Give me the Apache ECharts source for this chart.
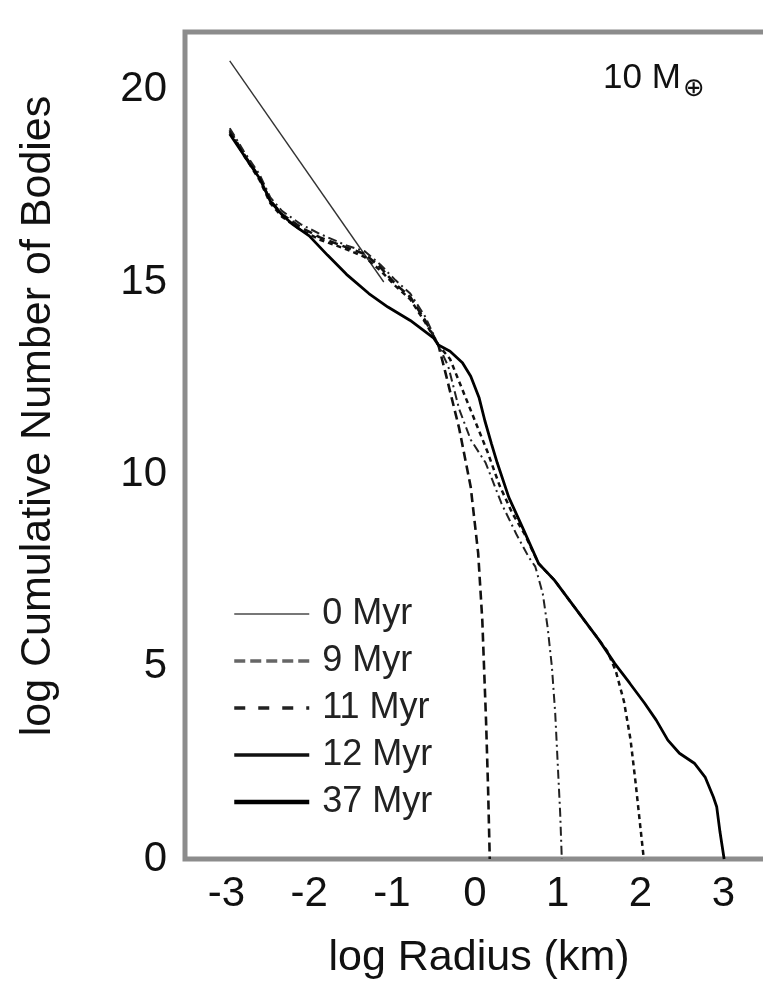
<!DOCTYPE html>
<html>
<head>
<meta charset="utf-8">
<script src="https://cdn.jsdelivr.net/npm/echarts@6/dist/echarts.min.js"></script>
<style>
html,body{margin:0;padding:0;background:#fff;}
#chart{width:763px;height:987px;}
</style>
</head>
<body>
<div id="chart"></div>
<script>
// ---- data (log radius in km, log cumulative number) ----
const seriesNames = ['0 Myr', '9 Myr', '11 Myr', '12 Myr', '37 Myr'];
const xTicks = [-3, -2, -1, 0, 1, 2, 3];
const yTicks = [0, 5, 10, 15, 20];

const radius0 = [-2.96, -1.1];
const count0  = [20.75, 15.0];

const radius9 = [-2.96, -2.79, -2.6, -2.47, -2.33, -2.1, -1.87, -1.55, -1.33, -1.14, -0.96, -0.78, -0.6, -0.44, -0.35, -0.19, -0.05, 0.04, 0.09, 0.135, 0.16, 0.18];
const count9  = [18.95, 18.33, 17.72, 17.12, 16.77, 16.42, 16.16, 15.9, 15.73, 15.38, 14.95, 14.61, 14.0, 13.36, 12.6, 11.2, 9.67, 7.95, 6.2, 3.6, 1.8, 0];

const radius11 = [-2.96, -2.79, -2.6, -2.47, -2.33, -2.1, -1.87, -1.55, -1.33, -1.14, -0.96, -0.78, -0.6, -0.44, -0.32, -0.19, -0.05, 0.13, 0.32, 0.5, 0.65, 0.73, 0.82, 0.88, 0.93, 0.97, 1.0, 1.03, 1.05];
const count11  = [19.0, 18.4, 17.8, 17.2, 16.85, 16.5, 16.25, 15.95, 15.8, 15.45, 15.05, 14.7, 14.1, 13.36, 12.8, 11.7, 10.9, 10.3, 9.25, 8.45, 7.85, 7.6, 6.9, 6.0, 5.0, 3.8, 2.5, 1.2, 0];

const radius12 = [-2.96, -2.79, -2.6, -2.47, -2.33, -2.1, -1.87, -1.55, -1.33, -1.14, -0.96, -0.78, -0.6, -0.44, -0.3, -0.15, 0.0, 0.15, 0.3, 0.45, 0.6, 0.77, 0.96, 1.14, 1.32, 1.5, 1.6, 1.7, 1.8, 1.88, 1.94, 1.99, 2.04];
const count12  = [18.9, 18.3, 17.65, 17.05, 16.7, 16.35, 16.1, 15.85, 15.65, 15.3, 14.9, 14.55, 13.95, 13.36, 13.0, 12.2, 11.4, 10.6, 9.7, 9.0, 8.45, 7.68, 7.25, 6.73, 6.21, 5.69, 5.4, 4.9, 4.1, 3.1, 2.0, 1.0, 0];

const radius37 = [-2.96, -2.79, -2.6, -2.47, -2.33, -2.2, -2.0, -1.78, -1.55, -1.28, -1.05, -0.78, -0.5, -0.44, -0.3, -0.15, -0.05, 0.05, 0.12, 0.2, 0.27, 0.41, 0.59, 0.77, 0.96, 1.14, 1.32, 1.5, 1.69, 1.87, 2.05, 2.19, 2.33, 2.47, 2.65, 2.78, 2.88, 2.92, 2.96, 3.01];
const count37  = [18.85, 18.3, 17.7, 17.1, 16.75, 16.5, 16.2, 15.7, 15.2, 14.7, 14.35, 14.0, 13.55, 13.36, 13.2, 12.9, 12.55, 12.0, 11.4, 10.8, 10.3, 9.4, 8.55, 7.68, 7.25, 6.73, 6.21, 5.69, 5.08, 4.57, 4.05, 3.61, 3.09, 2.75, 2.49, 2.13, 1.61, 1.36, 0.7, 0];

function pairs(xs, ys) { return xs.map((x, i) => [x, ys[i]]); }

const FONT = '"Liberation Sans", Arial, Helvetica, sans-serif';

const chart = echarts.init(document.getElementById('chart'), null, {renderer: 'canvas'});

const lineDefs = [
  {name: seriesNames[0], data: pairs(radius0, count0), style: {color: '#333', width: 1.4, type: 'solid'}, z: 2},
  {name: seriesNames[1], data: pairs(radius9, count9), style: {color: '#111', width: 2.6, type: [9, 5]}, z: 3},
  {name: seriesNames[2], data: pairs(radius11, count11), style: {color: '#222', width: 2, type: [9, 4, 2, 4]}, z: 3},
  {name: seriesNames[3], data: pairs(radius12, count12), style: {color: '#111', width: 2.5, type: [5, 4]}, z: 3},
  {name: seriesNames[4], data: pairs(radius37, count37), style: {color: '#000', width: 2.8, type: 'solid'}, z: 4}
];

const legendStyles = [
  {color: '#777', width: 2, type: 'solid'},
  {color: '#666', width: 3.5, type: [11, 5]},
  {color: '#222', width: 3.5, type: [11, 13]},
  {color: '#111', width: 3.5, type: 'solid'},
  {color: '#000', width: 4.5, type: 'solid'}
];

const option = {
  animation: false,
  backgroundColor: '#fff',
  grid: {left: 185, top: 32, width: 588, height: 827, show: true, borderColor: '#8c8c8c', borderWidth: 5,
         backgroundColor: 'transparent', containLabel: false, outerBoundsMode: 'none'},
  xAxis: {
    type: 'value', min: -3.5, max: 3.6, interval: 0.5,
    axisLine: {show: false}, axisTick: {show: false}, splitLine: {show: false},
    axisLabel: {
      fontSize: 42, color: '#111', fontFamily: FONT, margin: 14,
      formatter: v => (xTicks.indexOf(Math.round(v * 100) / 100) >= 0 ? String(Math.round(v)) : '')
    },
    name: 'log Radius (km)', nameLocation: 'middle', nameGap: 78,
    nameTextStyle: {fontSize: 43, color: '#111', fontFamily: FONT}
  },
  yAxis: {
    type: 'value', min: 0, max: 21.5, interval: 5,
    axisLine: {show: false}, axisTick: {show: false}, splitLine: {show: false},
    axisLabel: {
      fontSize: 42, color: '#111', fontFamily: FONT, margin: 18,
      formatter: v => (yTicks.indexOf(v) >= 0 ? String(v) : '')
    }
  },
  legend: {
    orient: 'vertical', left: 232, top: 596, padding: 0,
    itemWidth: 75, itemHeight: 14, itemGap: 11,
    selectedMode: false,
    itemStyle: {opacity: 0, borderWidth: 0},
    textStyle: {fontSize: 36, lineHeight: 36, color: '#222', fontFamily: FONT, padding: [0, 0, 0, 8]},
    data: seriesNames.map((n, i) => ({name: n, lineStyle: legendStyles[i]}))
  },
  graphic: [
    {type: 'text', x: 38, y: 416, rotation: Math.PI / 2,
     style: {text: 'log Cumulative Number of Bodies', fontSize: 43, fontFamily: FONT, fill: '#111', align: 'center', verticalAlign: 'middle'}},
    {type: 'text', x: 603, y: 78,
     style: {text: '10 M', fontSize: 35, fontFamily: FONT, fill: '#111', align: 'left', verticalAlign: 'middle'}},
    {type: 'text', x: 694, y: 89,
     style: {text: '\u2295', fontSize: 26, fontFamily: '"DejaVu Sans", sans-serif', fill: '#111', align: 'center', verticalAlign: 'middle'}}
  ],
  series: lineDefs.map(d => ({
    name: d.name, type: 'line', data: d.data, showSymbol: false, symbol: 'none',
    lineStyle: d.style, itemStyle: {color: d.style.color}, z: d.z, smooth: false
  }))
};

chart.setOption(option);
</script>
</body>
</html>
